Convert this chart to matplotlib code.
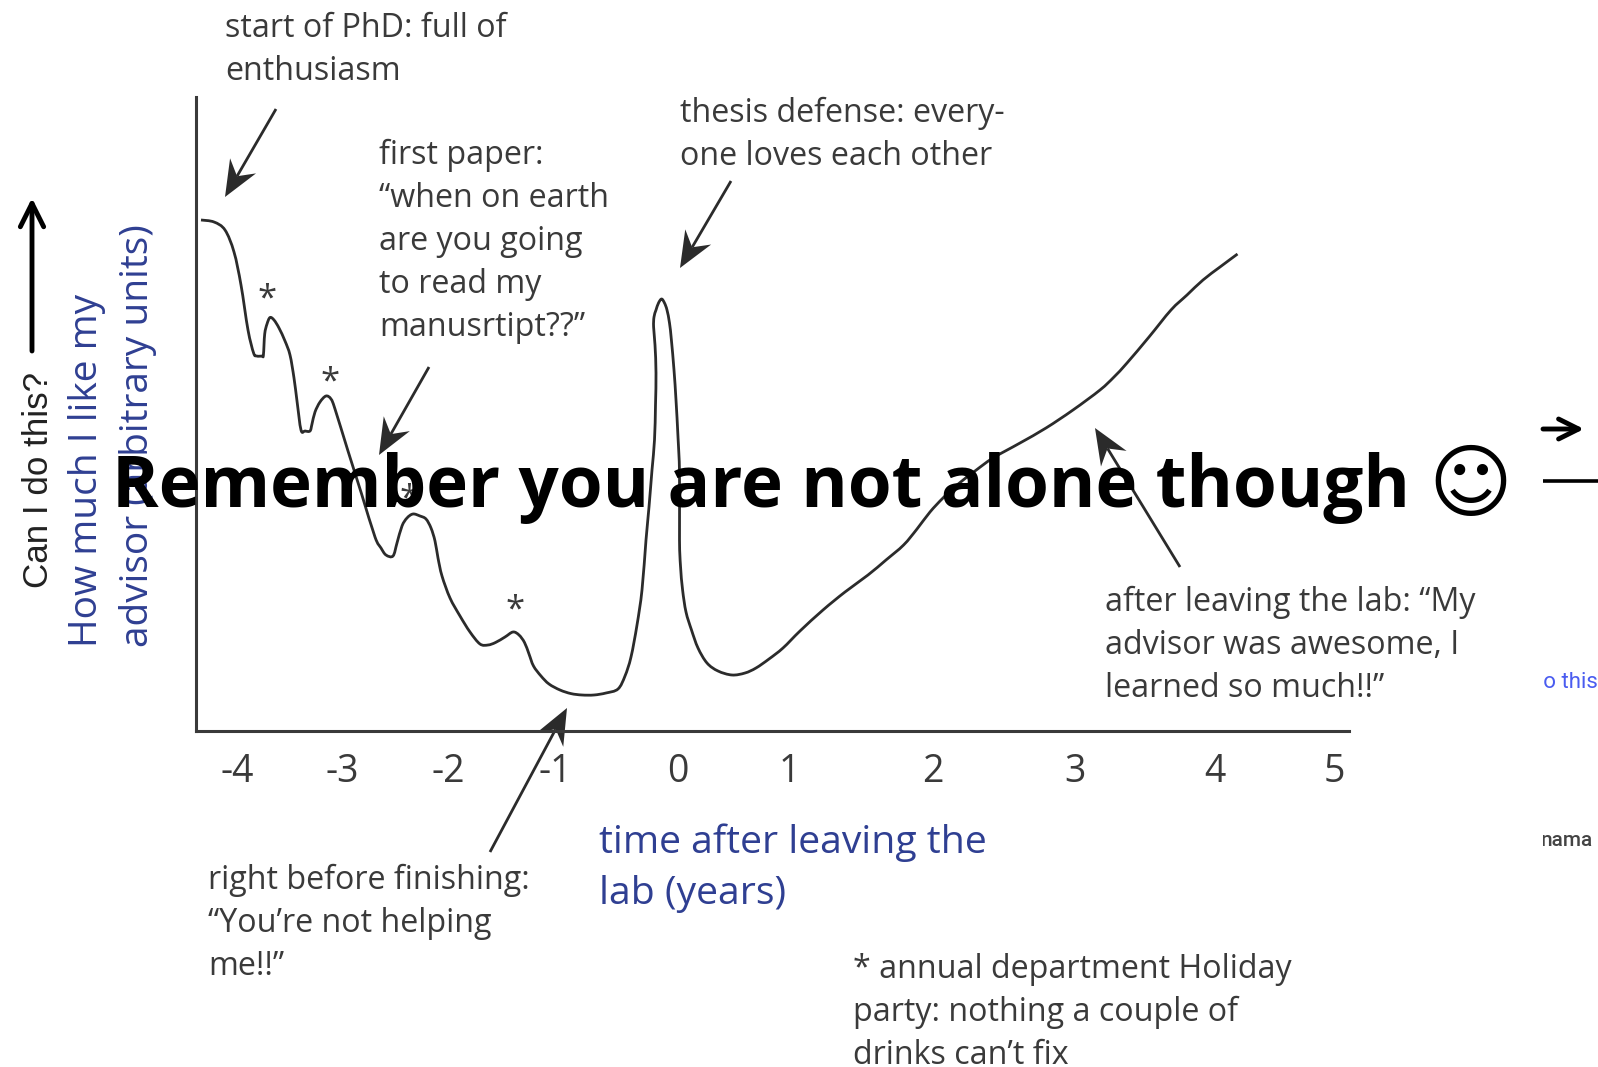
import matplotlib
matplotlib.use('Agg')
import numpy as np
import matplotlib.pyplot as plt
from matplotlib.patches import Rectangle, PathPatch, Polygon
from matplotlib.path import Path

# curve (pixel units of the original figure)
curve_x = [201, 214, 225, 234, 241, 248, 253.6, 256.7, 262, 263.4, 264.7, 267, 270, 274, 279, 285, 290, 294, 297, 301,
           305, 310, 312, 315, 320, 326, 331, 335, 348, 361.6, 375, 381, 386, 393, 397, 402, 407, 413, 420, 426, 431, 435, 438,
           442, 450, 460, 470, 480, 488, 495.5, 505, 513, 519, 524.5, 529, 533.5, 541, 549, 560, 571, 582, 594, 606, 618,
           625, 631, 637, 642, 646, 649, 652, 654.5, 655.5, 656, 655, 653.6, 654, 656, 658.5, 661.6, 664.5, 667, 669.5, 671.4,
           674, 676, 678, 679.5, 679.5, 680.5, 682.6, 686, 691.5, 698, 707, 718, 732, 745, 756, 769, 783, 800, 823, 845,
           868, 886, 903.6, 917, 930, 943, 957, 975, 993, 1020, 1046, 1073, 1100, 1114, 1127, 1149, 1171, 1187, 1203, 1220, 1237.5]
curve_y = [220, 222, 230, 252, 285, 330, 353, 356, 356, 355, 334, 324, 317.5, 320, 328, 341, 355, 378, 401, 430,
           431, 431, 424, 412, 402, 396, 399, 409, 451, 494, 537, 548, 555, 556, 543, 526, 518, 514, 516, 519, 528, 541, 558,
           576, 598, 616, 632, 644, 645, 642.5, 637, 632, 635, 642.5, 654, 666, 676, 684, 690, 693.6, 695, 695, 693, 689,
           676, 657, 625, 590, 540, 507, 470, 440, 405, 373, 345, 327, 317, 310, 303, 299, 303, 310, 323, 340,
           370, 400, 437, 473, 540, 566, 590, 612, 630, 648, 663, 671, 675, 673, 668, 659, 648, 631, 610, 592,
           575, 560, 545, 529, 512, 498, 485, 471, 458, 443, 428, 410, 390, 377, 363, 337, 310, 295, 280, 267, 254]

tick_pos = [237, 342, 448, 555, 678, 789, 933, 1075, 1215, 1334]
tick_labels = ['-4', '-3', '-2', '-1', '0', '1', '2', '3', '4', '5']

party_x = [267, 330, 409, 515]
party_y = [300, 383, 500, 611]

# (tail x, tail y, head x, head y)
callouts = [(276, 109, 225, 197), (429, 367, 379, 455), (731, 181, 680, 268),
            (1180, 567, 1095, 428), (490, 852, 567, 708)]

notes = ['start of PhD: full of\nenthusiasm',
         'first paper:\n“when on earth\nare you going\nto read my\nmanusrtipt??”',
         'thesis defense: every-\none loves each other',
         'after leaving the lab: “My\nadvisor was awesome, I\nlearned so much!!”',
         'right before finishing:\n“You’re not helping\nme!!”',
         '* annual department Holiday\nparty: nothing a couple of\ndrinks can’t fix']
notes_x = [225, 379, 680, 1105, 208, 853]
notes_y = [12, 139, 97, 586, 864, 953]

ink = '#3a3a3a'
blue = '#2f3f92'


def smooth_path(xs, ys):
    # catmull-rom through the traced points, written as bezier segments
    pts = np.column_stack([xs, ys])
    verts = [pts[0]]
    codes = [Path.MOVETO]
    for i in range(len(pts) - 1):
        p0 = pts[max(i - 1, 0)]
        p1 = pts[i]
        p2 = pts[i + 1]
        p3 = pts[min(i + 2, len(pts) - 1)]
        verts += [p1 + (p2 - p0) / 6, p2 - (p3 - p1) / 6, p2]
        codes += [Path.CURVE4] * 3
    return Path(verts, codes)


def stealth_arrow(ax, x0, y0, x1, y1, length=36, half=15, notch=24):
    # annotation arrow with the swept back head of the drawing
    tail = np.array([x0, y0], dtype=float)
    tip = np.array([x1, y1], dtype=float)
    d = (tip - tail) / np.hypot(*(tip - tail))
    n = np.array([-d[1], d[0]])
    ax.plot([tail[0], (tip - d * notch)[0]], [tail[1], (tip - d * notch)[1]], color='#2b2b2b', lw=2,
            solid_capstyle='butt')
    head = [tip, tip - d * length + n * half, tip - d * notch, tip - d * length - n * half]
    ax.add_patch(Polygon(head, closed=True, facecolor='#2b2b2b', edgecolor='none'))


fig = plt.figure(figsize=(15.98, 10.67), dpi=100)
ax = fig.add_axes([0, 0, 1, 1])
ax.set_xlim(0, 1598)
ax.set_ylim(1067, 0)

ax.spines['top'].set_visible(False)
ax.spines['right'].set_visible(False)
ax.spines['left'].set_position(('data', 196))
ax.spines['bottom'].set_position(('data', 731))
ax.spines['left'].set_bounds(97, 731)
ax.spines['bottom'].set_bounds(196, 1349)
ax.spines['left'].set_linewidth(2.2)
ax.spines['bottom'].set_linewidth(2.2)
ax.spines['left'].set_color(ink)
ax.spines['bottom'].set_color(ink)
ax.patch.set_alpha(0)
ax.set_yticks([])
ax.set_xticks(tick_pos, tick_labels)
ax.tick_params(axis='x', length=0, pad=16, labelsize=27, labelcolor=ink)
for lab in ax.get_xticklabels():
    lab.set_fontfamily('Open Sans')

ax.add_patch(PathPatch(smooth_path(curve_x, curve_y), fill=False, edgecolor='#2b2b2b', lw=2, joinstyle='round'))

for x, y in zip(party_x, party_y):
    ax.text(x, y, '*', fontsize=25, color=ink, ha='center', va='center', family='Open Sans')

for x0, y0, x1, y1 in callouts:
    stealth_arrow(ax, x0, y0, x1, y1)

for txt, x, y in zip(notes, notes_x, notes_y):
    ax.text(x, y, txt, fontsize=23.2, color=ink, ha='left', va='top', family='Open Sans', linespacing=1.4)

ax.text(599, 823, 'time after leaving the\nlab (years)', fontsize=28.2, color=blue, ha='left', va='top',
        family='Open Sans', linespacing=1.47)

# y labels
ax.text(39, 588, 'Can I do this?', rotation=90, fontsize=25.2, color='#222222', ha='center', va='bottom',
        family='Liberation Sans')
ax.text(87, 647, 'How much I like my', rotation=90, fontsize=28, color=blue, ha='center', va='bottom',
        family='Open Sans')
ax.text(138, 647, 'advisor (arbitrary units)', rotation=90, fontsize=28, color=blue, ha='center', va='bottom',
        family='Open Sans')
ax.annotate('', xy=(32, 198), xytext=(32, 351),
            arrowprops=dict(arrowstyle='->', color='black', lw=3.5, mutation_scale=42, shrinkA=0, shrinkB=0))

# cut off bits on the right edge
edge = Rectangle((1543, 0), 55, 1067, transform=ax.transData, fill=False, lw=0)
ax.add_patch(edge)
ax.annotate('', xy=(1584, 429), xytext=(1543, 429),
            arrowprops=dict(arrowstyle='->', color='black', lw=3.5, mutation_scale=36, shrinkA=0, shrinkB=0))
ax.plot([1543, 1598], [481, 481], color='black', lw=2.6, solid_capstyle='butt')
t1 = ax.text(1598, 682, 'to this', fontsize=16, color='#4a5cf0', ha='right', va='center', family='Roboto')
t1.set_clip_on(True)
t1.set_clip_path(edge)
t2 = ax.text(1593, 841, 'nama', fontsize=15, color='#444444', ha='right', va='center', family='Roboto', weight='medium')
t2.set_clip_on(True)
t2.set_clip_path(edge)

# overlay line
ax.text(112, 488, 'Remember you are not alone though', fontsize=51, fontweight='bold', color='black',
        ha='left', va='center', family='Open Sans')
ax.text(1470, 488, '☺', fontsize=58, fontweight='bold', color='black', ha='center', va='center', family='DejaVu Sans')

fig.savefig('out.png', dpi=100)
